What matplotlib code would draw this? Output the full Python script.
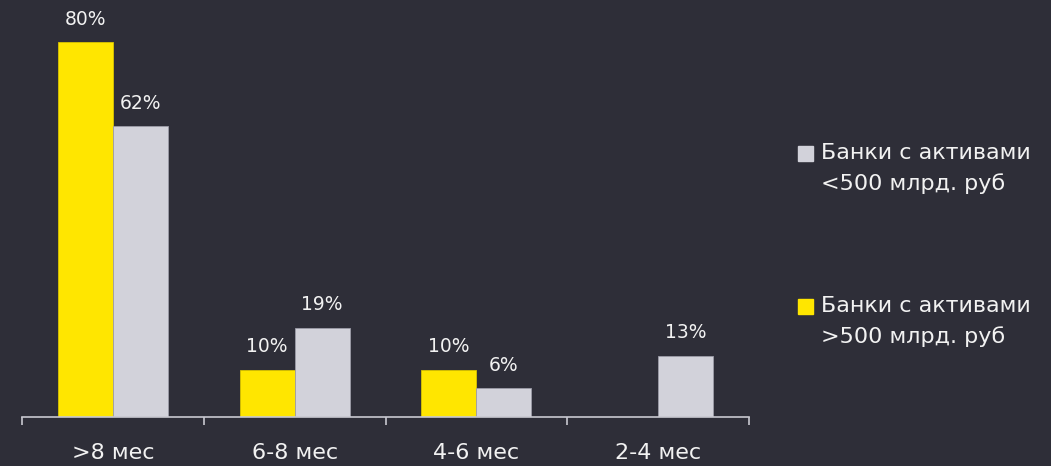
import matplotlib
matplotlib.use("Agg")
import matplotlib.pyplot as plt
import numpy as np

categories = [">8 мес", "6-8 мес", "4-6 мес", "2-4 мес"]
series_names = ["Банки с активами\n>500 млрд. руб", "Банки с активами\n<500 млрд. руб"]
large_banks = [80, 10, 10, None]
small_banks = [62, 19, 6, 13]

BG = "#2e2e38"
YELLOW = "#ffe600"
GREY = "#d2d2da"
TEXT = "#f2f2f2"
AXIS = "#c8c8d0"

W, H = 1051, 466
fig = plt.figure(figsize=(W / 100, H / 100), dpi=100, facecolor=BG)
left, right = 22 / W, 749 / W
bottom = (H - 416.5) / H
top = (H - 42) / H
ax = fig.add_axes([left, bottom, right - left, top - bottom], facecolor=BG)

x = np.arange(len(categories))
bw = 0.302
for i in range(len(categories)):
    if large_banks[i] is not None:
        ax.bar(x[i] - bw / 2, large_banks[i], width=bw, color=YELLOW,
               edgecolor="#d9c400", linewidth=0.6)
        ax.annotate(f"{large_banks[i]}%", (x[i] - bw / 2, large_banks[i]),
                    xytext=(0, 12.5), textcoords="offset points",
                    ha="center", va="baseline", color=TEXT, fontsize=13.5,
                    annotation_clip=False)
    if small_banks[i] is not None:
        ax.bar(x[i] + bw / 2, small_banks[i], width=bw, color=GREY,
               edgecolor="#9c9ca8", linewidth=0.6)
        ax.annotate(f"{small_banks[i]}%", (x[i] + bw / 2, small_banks[i]),
                    xytext=(0, 12.5), textcoords="offset points",
                    ha="center", va="baseline", color=TEXT, fontsize=13.5,
                    annotation_clip=False)

ax.set_xlim(-0.5, len(categories) - 0.5)
ax.set_ylim(0, 80)
for s in ["top", "right", "left"]:
    ax.spines[s].set_visible(False)
ax.spines["bottom"].set_color(AXIS)
ax.spines["bottom"].set_linewidth(1.2)
ax.set_yticks([])
ax.set_xticks(np.arange(-0.5, len(categories), 1.0))
ax.set_xticklabels([])
ax.set_xticks(x, minor=True)
ax.set_xticklabels(categories, minor=True)
ax.tick_params(axis="x", which="major", length=6, width=1.2, color=AXIS, direction="out")
ax.tick_params(axis="x", which="minor", length=0, pad=19, labelsize=16, labelcolor=TEXT)

# legend
leg_items = [(GREY, series_names[1], 153), (YELLOW, series_names[0], 306)]
for col, label, yc in leg_items:
    fig.patches.append(plt.Rectangle((798 / W, (H - yc - 7.5) / H), 15 / W, 15 / H,
                                     transform=fig.transFigure, color=col))
    fig.text(821 / W, (H - yc + 10) / H, label, color=TEXT, fontsize=16,
             va="top", ha="left", linespacing=1.62)

fig.savefig("out.png", dpi=100, facecolor=BG)
